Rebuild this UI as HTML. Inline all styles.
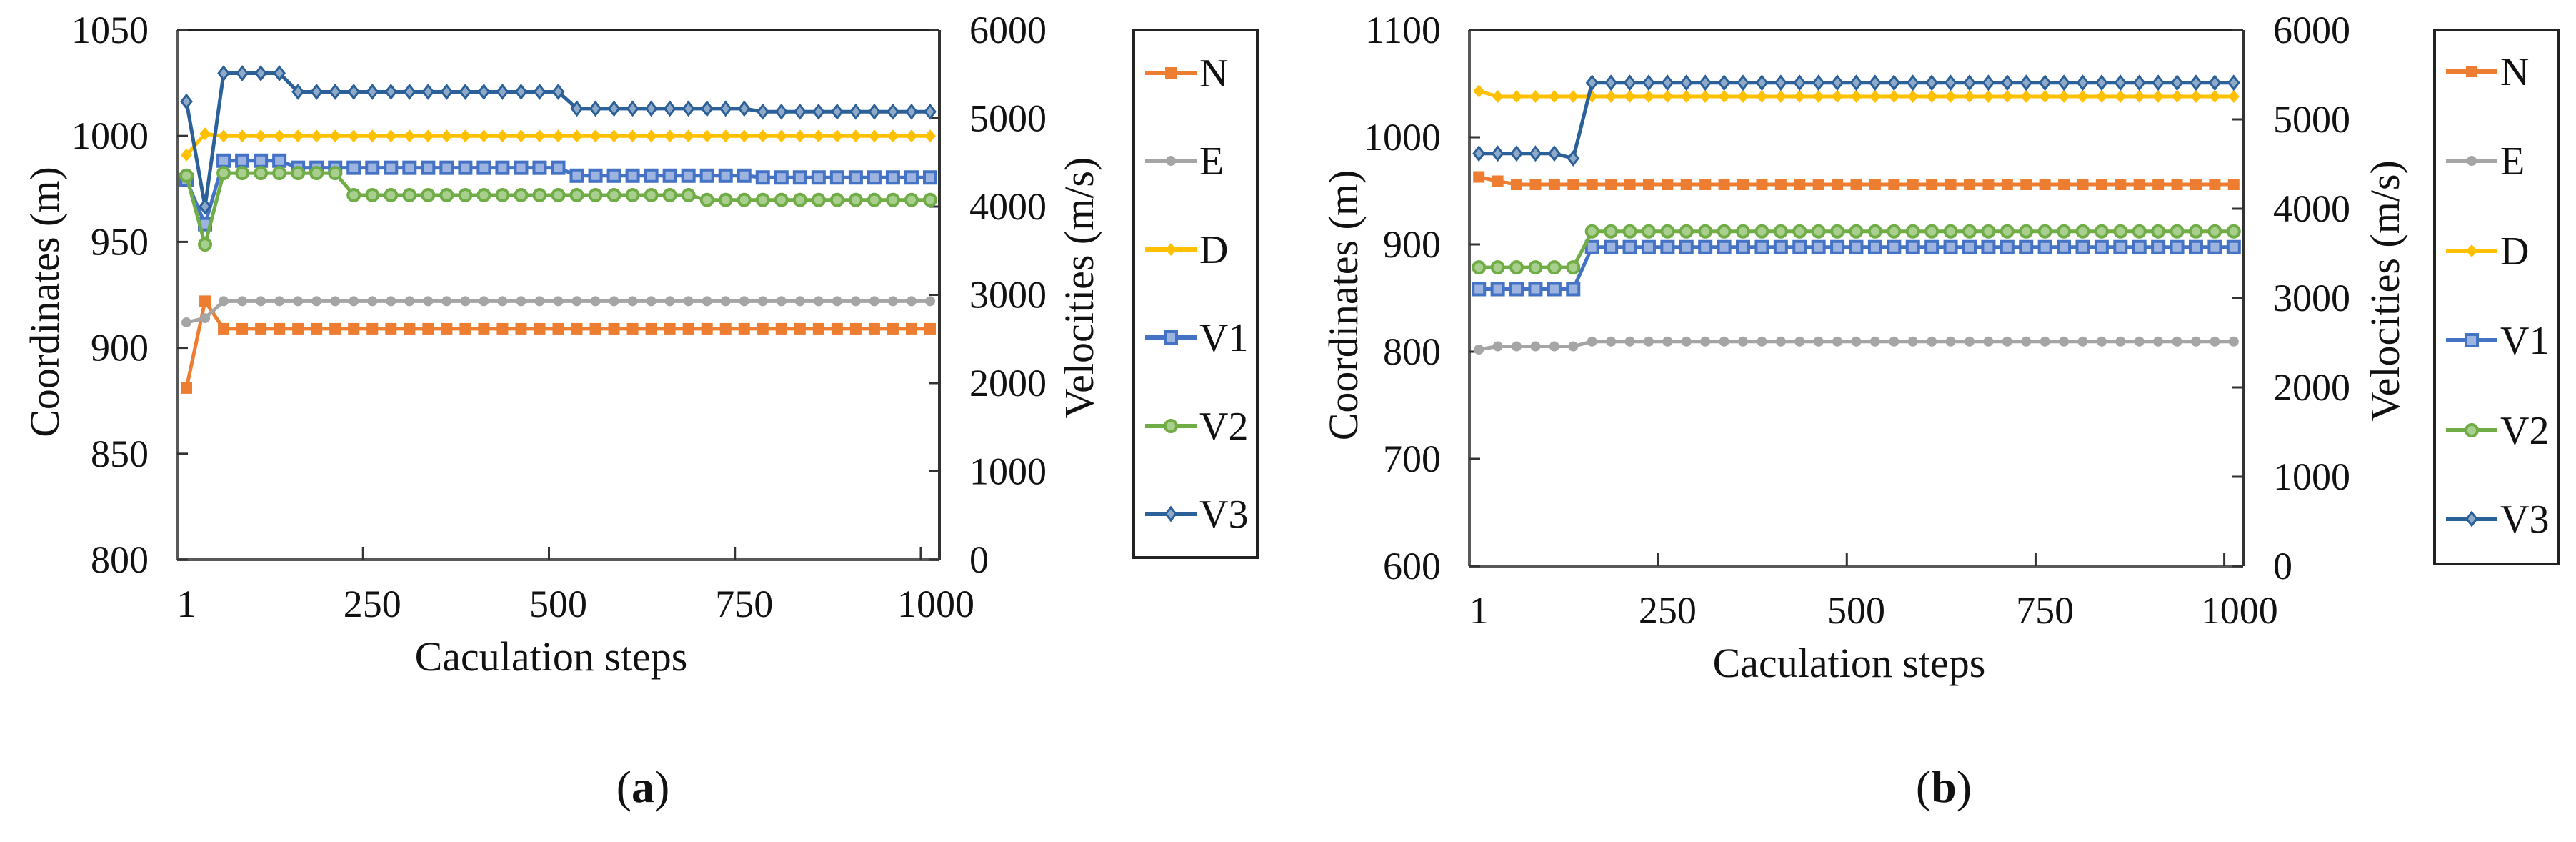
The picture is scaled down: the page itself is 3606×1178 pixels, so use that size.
<!DOCTYPE html>
<html><head><meta charset="utf-8"><style>
html,body{margin:0;padding:0;background:#fff;}
svg{display:block;font-family:"Liberation Serif",serif;}
</style></head><body>
<svg id="fig" width="3606" height="1178" viewBox="0 0 3606 1178" xmlns="http://www.w3.org/2000/svg"></svg>
<script>
// ---- data ----
const xLabels = ["1","250","500","750","1000"];
const seriesNames = ["N","E","D","V1","V2","V3"];
const leftTicksA = [800,850,900,950,1000,1050];
const leftTicksB = [600,700,800,900,1000,1100];
const rightTicks = [0,1000,2000,3000,4000,5000,6000];
function rep(v,n){return Array(n).fill(v);}
const aN = [881,922].concat(rep(909,39));
const aE = [912,914].concat(rep(922,39));
const aD = [991,1001].concat(rep(1000,39));
const aV1 = [4300,3800].concat(rep(4520,4),rep(4440,15),rep(4350,10),rep(4330,10));
const aV2 = [4350,3570].concat(rep(4380,7),rep(4130,19),rep(4075,13));
const aV3 = [5190,4000].concat(rep(5510,4),rep(5300,15),rep(5110,10),rep(5075,10));
const bN = [963,959].concat(rep(956,39));
const bE = [802].concat(rep(805,5),rep(809.5,35));
const bD = [1043].concat(rep(1038,40));
const bV1 = rep(3100,6).concat(rep(3570,35));
const bV2 = rep(3343,6).concat(rep(3746,35));
const bV3 = rep(4618,5).concat([4564],rep(5410,35));

const svg=document.getElementById('fig');
const NS='http://www.w3.org/2000/svg';
function mk(tag,attrs,parent){const e=document.createElementNS(NS,tag);for(const k in attrs)e.setAttribute(k,attrs[k]);(parent||svg).appendChild(e);return e;}
const colors={N:'#ED7D31',E:'#A5A5A5',D:'#FFC000',V1:'#4472C4',V2:'#70AD47',V3:'#2B6099'};

function marker(g,name,x,y){
  const c=colors[name];let m;
  if(name==='N'){m=mk('rect',{x:x-8,y:y-8,width:16,height:16,fill:c},g);}
  else if(name==='E'){m=mk('circle',{cx:x,cy:y,r:7,fill:c},g);}
  else if(name==='D'){m=mk('path',{d:`M${x} ${y-9}L${x+8} ${y}L${x} ${y+9}L${x-8} ${y}Z`,fill:c},g);}
  else if(name==='V1'){m=mk('rect',{x:x-8,y:y-8,width:16,height:16,fill:'#9DB4E0',stroke:c,'stroke-width':4},g);}
  else if(name==='V2'){m=mk('circle',{cx:x,cy:y,r:8,fill:'#A9CF8F',stroke:c,'stroke-width':4},g);}
  else {m=mk('path',{d:`M${x} ${y-9}L${x+7} ${y}L${x} ${y+9}L${x-7} ${y}Z`,fill:'#8FAAC8',stroke:c,'stroke-width':3},g);}
  return m;
}

function panel(cfg){
  const {L,R,T,B,ymin,ymax,leftTicks,series,lgX,lgY,lgW,lgH,lgYs,id}=cfg;
  const g=mk('g',{});
  
  
  const n=41,w=(R-L)/n;
  const xs=i=>L+(i+0.5)*w;
  const ys=v=>B-(v-ymin)/(ymax-ymin)*(B-T);
  const yv=v=>B-v/6000*(B-T);
  // axes
  const ax=mk('g',{},g);
  
  
  mk('line',{x1:L,y1:T,x2:R,y2:T,stroke:'#222','stroke-width':4},ax);
  mk('line',{x1:L,y1:T,x2:L,y2:B,stroke:'#595959','stroke-width':4},ax);
  mk('line',{x1:R,y1:T,x2:R,y2:B,stroke:'#333','stroke-width':4},ax);
  mk('line',{x1:L,y1:B,x2:R,y2:B,stroke:'#595959','stroke-width':4},ax);
  leftTicks.forEach(t=>{
    const y=ys(t);
    mk('line',{x1:L,y1:y,x2:L+15,y2:y,stroke:'#333','stroke-width':3},ax);
    const tx=mk('text',{x:L-40,y:y+18,'font-size':54,'text-anchor':'end',fill:'#111'},ax);
    tx.textContent=t;
    
    
  });
  rightTicks.forEach(t=>{
    const y=yv(t);
    mk('line',{x1:R-15,y1:y,x2:R,y2:y,stroke:'#333','stroke-width':3},ax);
    const tx=mk('text',{x:R+42,y:y+18,'font-size':54,'text-anchor':'start',fill:'#111'},ax);
    tx.textContent=t;
    
    
  });
  xLabels.forEach((lab,k)=>{
    const i=k*10;
    if(k>0) mk('line',{x1:L+i*w,y1:B-18,x2:L+i*w,y2:B,stroke:'#333','stroke-width':3},ax);
    const tx=mk('text',{x:xs(i)+(k===4?8:0),y:B+80,'font-size':54,'text-anchor':'middle',fill:'#111'},ax);
    tx.textContent=lab;
    
    
  });
  let t=mk('text',{x:(L+R)/2-10,y:B+155,'font-size':58,'text-anchor':'middle',fill:'#111'},g);
  t.textContent='Caculation steps';
  
  
  t=mk('text',{x:0,y:0,'font-size':58,'text-anchor':'middle',fill:'#111',transform:`translate(${cfg.ltX},${(T+B)/2+10}) rotate(-90)`},g);
  t.textContent='Coordinates (m)';
  
  
  t=mk('text',{x:0,y:0,'font-size':58,'text-anchor':'middle',fill:'#111',transform:`translate(${cfg.rtX},${(T+B)/2-10}) rotate(-90)`},g);
  t.textContent='Velocities (m/s)';
  
  
  // series
  seriesNames.forEach((nm,si)=>{
    const data=series[si];
    const isVel=nm[0]==='V';
    const sg=mk('g',{},g);
    
    
    const pts=data.map((v,i)=>[xs(i),isVel?yv(v):ys(v)]);
    mk('polyline',{points:pts.map(p=>p.join(',')).join(' '),fill:'none',stroke:colors[nm],'stroke-width':5,'stroke-linejoin':'round'},sg);
    pts.forEach(p=>{const m=marker(sg,nm,p[0],p[1]);
      
      });
  });
  // legend
  const lg=mk('g',{},g);
  
  
  mk('rect',{x:lgX,y:lgY,width:lgW,height:lgH,fill:'#fff',stroke:'#222','stroke-width':4},lg);
  seriesNames.forEach((nm,si)=>{
    const y=lgYs[si];
    const eg=mk('g',{},lg);
    
    
    mk('line',{x1:lgX+16,y1:y,x2:lgX+88,y2:y,stroke:colors[nm],'stroke-width':6},eg);
    marker(eg,nm,lgX+52,y);
    const tx=mk('text',{x:lgX+92,y:y+19,'font-size':56,fill:'#111'},eg);
    tx.textContent=nm;
  });
  t=mk('text',{x:cfg.capX,y:1122,'font-size':64,'text-anchor':'middle',fill:'#111'},g);
  t.innerHTML='(<tspan font-weight="bold">'+cfg.cap+'</tspan>)';
  
  
}

panel({id:'a',L:248,R:1315,T:42,B:783,ymin:800,ymax:1050,leftTicks:leftTicksA,
  series:[aN,aE,aD,aV1,aV2,aV3],lgX:1587,lgY:42,lgW:173,lgH:738,
  lgYs:[102,225,349,472,596,719],ltX:82,rtX:1530,capX:900,cap:'a'});
panel({id:'b',L:2057,R:3140,T:42,B:792,ymin:600,ymax:1100,leftTicks:leftTicksB,
  series:[bN,bE,bD,bV1,bV2,bV3],lgX:3408,lgY:42,lgW:173,lgH:747,
  lgYs:[100,225,351,476,602,726],ltX:1900,rtX:3358,capX:2721,cap:'b'});
</script>
</body></html>
